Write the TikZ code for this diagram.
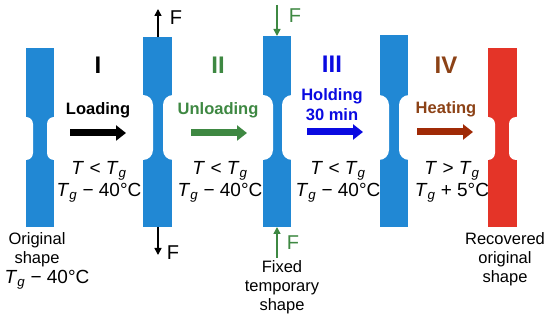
\documentclass[tikz,border=0pt]{standalone}
\usepackage{fontspec}
\setmainfont{Liberation Sans}
\usetikzlibrary{arrows.meta}
\definecolor{barblue}{RGB}{33,136,212}
\definecolor{barred}{RGB}{228,52,40}
\definecolor{stepgreen}{RGB}{62,136,66}
\definecolor{stepblue}{RGB}{10,10,225}
\definecolor{stepbrown}{RGB}{140,66,22}
\definecolor{heatarrow}{RGB}{160,42,6}

\begin{document}
\begin{tikzpicture}[x=1pt, y=-1pt,
        bar/.style={rectangle, fill=barblue, inner sep=0pt, outer sep=0pt, minimum width=28pt},
        notch/.style={fill=white, rounded corners=#1},
        num/.style={font=\fontsize{24}{24}\selectfont\bfseries},
        lbl/.style={font=\fontsize{16.5}{20}\selectfont\bfseries, align=center},
        cond/.style={font=\fontsize{19}{22}\selectfont, align=center},
        note/.style={font=\fontsize{16.5}{19}\selectfont, align=center},
        flbl/.style={font=\fontsize{20}{20}\selectfont},
        arr/.style={-{Triangle[length=10pt,width=15pt]}, line width=7pt},
        force/.style={-{Triangle[length=7pt,width=7pt]}, line width=1.5pt}
    ]
        \useasboundingbox (0,0) rectangle (550,323);

        \node[bar, minimum height=179pt] (s1) at (40,137.5) {};
        \node[bar, minimum height=190pt, minimum width=29pt] (s2) at (157.5,132) {};
        \node[bar, minimum height=191pt] (s3) at (277,131.5) {};
        \node[bar, minimum height=192pt] (s4) at (394,131) {};
        \node[bar, minimum height=179pt, minimum width=29pt, fill=barred] (s5) at (502.5,137.5) {};

        \fill[notch=7pt] (14,117) rectangle (33,160);
        \fill[notch=7pt] (47,117) rectangle (66,160);
        \fill[notch=10pt] (131,95) rectangle (153,160);
        \fill[notch=10pt] (163,95) rectangle (184,160);
        \fill[notch=10pt] (251,95) rectangle (273,160);
        \fill[notch=10pt] (282,95) rectangle (303,160);
        \fill[notch=10pt] (368,95) rectangle (389,160);
        \fill[notch=10pt] (399,95) rectangle (420,160);
        \fill[notch=7pt] (476,117) rectangle (495,160);
        \fill[notch=7pt] (509,117) rectangle (529,160);

        \node[num] (nI) at (98,65) {I};
        \node[num, text=stepgreen] (nII) at (218,65) {II};
        \node[num, text=stepblue] (nIII) at (332,64) {III};
        \node[num, text=stepbrown] (nIV) at (446,65) {IV};

        \node[lbl] (load) at (98,110) {Loading};
        \node[lbl, text=stepgreen] (unload) at (218,110) {Unloading};
        \node[lbl, text=stepblue] (hold) at (332,105) {Holding\\30 min};
        \node[lbl, text=stepbrown] (heat) at (446,109) {Heating};

        \coordinate (la) at (70,133);   \coordinate (lb) at (126,133);
        \coordinate (ua) at (191,133);  \coordinate (ub) at (247,133);
        \coordinate (ha) at (307,132);  \coordinate (hb) at (363,132);
        \coordinate (ta) at (417,132);  \coordinate (tb) at (473,132);
        \draw[arr] (la) -- (lb);
        \draw[arr, stepgreen] (ua) -- (ub);
        \draw[arr, stepblue] (ha) -- (hb);
        \draw[arr, heatarrow] (ta) -- (tb);

        \node[cond] (c1) at (99,182) {\textit{T} < \textit{T}\textsubscript{\textit{g}}\\\textit{T}\textsubscript{\textit{g}} − 40°C};
        \node[cond] (c2) at (220,182) {\textit{T} < \textit{T}\textsubscript{\textit{g}}\\\textit{T}\textsubscript{\textit{g}} − 40°C};
        \node[cond] (c3) at (338,182) {\textit{T} < \textit{T}\textsubscript{\textit{g}}\\\textit{T}\textsubscript{\textit{g}} − 40°C};
        \node[cond] (c4) at (452,182) {\textit{T} > \textit{T}\textsubscript{\textit{g}}\\\textit{T}\textsubscript{\textit{g}} + 5°C};

        \node[note] (orig) at (37,250) {Original\\shape};
        \node[cond] (origT) at (47,280) {\textit{T}\textsubscript{\textit{g}} − 40°C};
        \node[note] (fixed) at (282,287) {Fixed\\temporary\\shape};
        \node[note] (recov) at (505,259) {Recovered\\original\\shape};

        \coordinate (f1) at (158,9);
        \coordinate (f2) at (158,255);
        \coordinate (g1) at (277,5);
        \coordinate (g2) at (277,258);
        \draw[force] (s2.north -| f1) -- (f1);
        \draw[force] (s2.south -| f2) -- (f2);
        \draw[force, stepgreen] (g1) -- (s3.north -| g1);
        \draw[force, stepgreen] (g2) -- (s3.south -| g2);
        \node[flbl] (F1) at (176,18) {F};
        \node[flbl] (F2) at (173,253) {F};
        \node[flbl, text=stepgreen] (F3) at (295,16) {F};
        \node[flbl, text=stepgreen] (F4) at (293,243) {F};
    \end{tikzpicture}
\end{document}
